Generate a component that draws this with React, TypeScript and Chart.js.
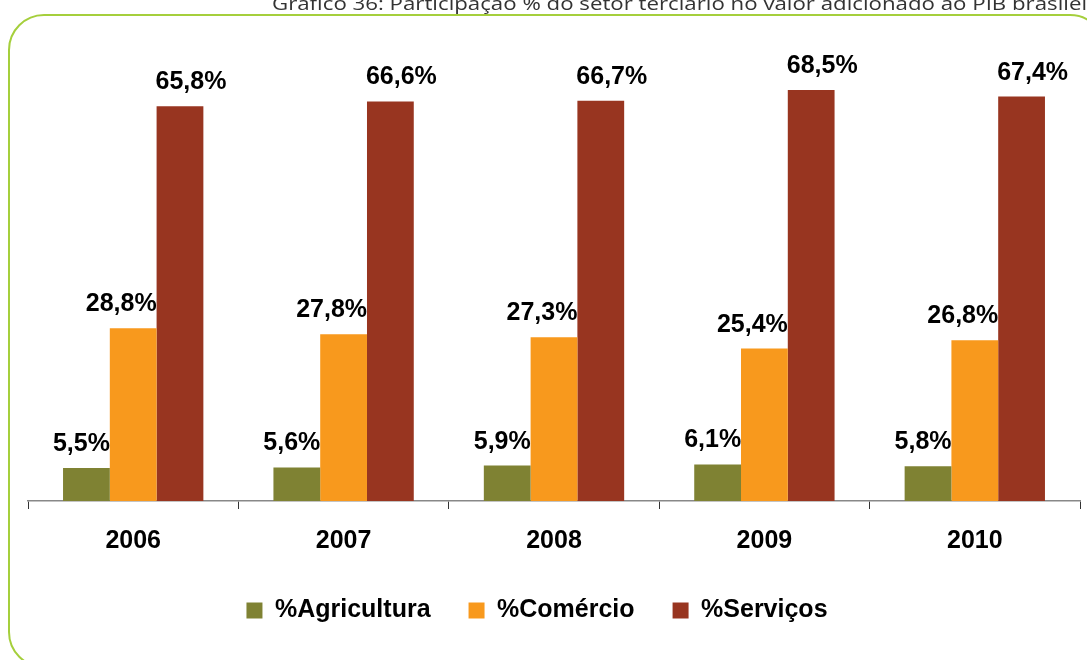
import React, { useEffect, useRef } from "react";
import { Chart, registerables } from "chart.js";

Chart.register(...registerables);

const categories = ["2006", "2007", "2008", "2009", "2010"];
const agricultura = [5.5, 5.6, 5.9, 6.1, 5.8];
const comercio = [28.8, 27.8, 27.3, 25.4, 26.8];
const servicos = [65.8, 66.6, 66.7, 68.5, 67.4];
const seriesNames = ["%Agricultura", "%Comércio", "%Serviços"];
const seriesColors = ["#7f8233", "#f8991d", "#983520"];
const titleText =
  "Gráfico 36: Participação % do setor terciário no valor adicionado ao PIB brasileiro";

const FONT = "'Liberation Sans', Arial, Helvetica, sans-serif";
const labelDx = [-5, -12, 11];

const decorPlugin = {
  id: "decor",
  beforeDraw(chart: any) {
    const ctx = chart.ctx;
    ctx.save();
    // rounded frame
    ctx.strokeStyle = "#a5cf3c";
    ctx.lineWidth = 2;
    const x = 9, y = 15, w = 1096, h = 652, r = 35;
    ctx.beginPath();
    ctx.moveTo(x + r, y);
    ctx.lineTo(x + w - r, y);
    ctx.arcTo(x + w, y, x + w, y + r, r);
    ctx.lineTo(x + w, y + h - r);
    ctx.arcTo(x + w, y + h, x + w - r, y + h, r);
    ctx.lineTo(x + r, y + h);
    ctx.arcTo(x, y + h, x, y + h - r, r);
    ctx.lineTo(x, y + r);
    ctx.arcTo(x, y, x + r, y, r);
    ctx.closePath();
    ctx.stroke();
    // title
    ctx.font = "19px 'Open Sans', 'Noto Sans', sans-serif";
    ctx.fillStyle = "#333";
    ctx.textBaseline = "alphabetic";
    ctx.textAlign = "left";
    const partial = titleText.slice(0, titleText.indexOf("brasil") + 8);
    const mw = ctx.measureText(partial).width;
    const sx = 815 / mw;
    ctx.translate(272, 10);
    ctx.scale(sx, 1);
    ctx.fillText(titleText, 0, 0);
    ctx.restore();
  },
  afterLayout(chart: any) {
    const lg = chart.legend;
    if (lg) {
      lg.left -= 17;
      lg.right -= 17;
      lg.top -= 13;
      lg.bottom -= 13;
    }
  },
  afterDatasetsDraw(chart: any) {
    const ctx = chart.ctx;
    ctx.save();
    ctx.font = `bold 25px ${FONT}`;
    ctx.fillStyle = "#000";
    ctx.textAlign = "center";
    ctx.textBaseline = "alphabetic";
    chart.data.datasets.forEach((ds: any, di: number) => {
      const meta = chart.getDatasetMeta(di);
      meta.data.forEach((el: any, i: number) => {
        const v = ds.data[i] as number;
        const txt = v.toFixed(1).replace(".", ",") + "%";
        ctx.fillText(txt, el.x + labelDx[di], el.y - 17);
      });
    });
    ctx.restore();
  },
};

export default function App() {
  const ref = useRef<HTMLCanvasElement | null>(null);
  useEffect(() => {
    if (!ref.current) return;
    const chart = new Chart(ref.current, {
      type: "bar",
      data: {
        labels: categories,
        datasets: [
          { label: seriesNames[0], data: agricultura, backgroundColor: seriesColors[0] },
          { label: seriesNames[1], data: comercio, backgroundColor: seriesColors[1] },
          { label: seriesNames[2], data: servicos, backgroundColor: seriesColors[2] },
        ],
      },
      options: {
        responsive: false,
        animation: false,
        devicePixelRatio: 1,
        datasets: {
          bar: { categoryPercentage: 0.667, barPercentage: 1 },
        },
        layout: { padding: { top: 51, left: 28, right: 7, bottom: 14 } },
        scales: {
          x: {
            grid: {
              display: true,
              drawOnChartArea: false,
              drawTicks: true,
              tickLength: 8,
              tickColor: "#333",
              offset: true,
            },
            border: { display: true, color: "#888", width: 1.5 },
            ticks: {
              padding: 17,
              color: "#000",
              font: { family: FONT, size: 25, weight: "bold" },
            },
          },
          y: { display: false, min: 0, max: 75 },
        },
        plugins: {
          legend: {
            position: "bottom",
            labels: {
              boxWidth: 16,
              boxHeight: 16,
              padding: 38,
              color: "#000",
              font: { family: FONT, size: 25, weight: "bold" },
            },
          },
          tooltip: { enabled: false },
          title: { display: false },
        },
      },
      plugins: [decorPlugin],
    });
    return () => chart.destroy();
  }, []);
  return (
    <div style={{ position: "fixed", left: 0, top: 0, width: 1087, height: 660, background: "#fff" }}>
      <canvas ref={ref} width={1087} height={660} style={{ display: "block" }} />
    </div>
  );
}
